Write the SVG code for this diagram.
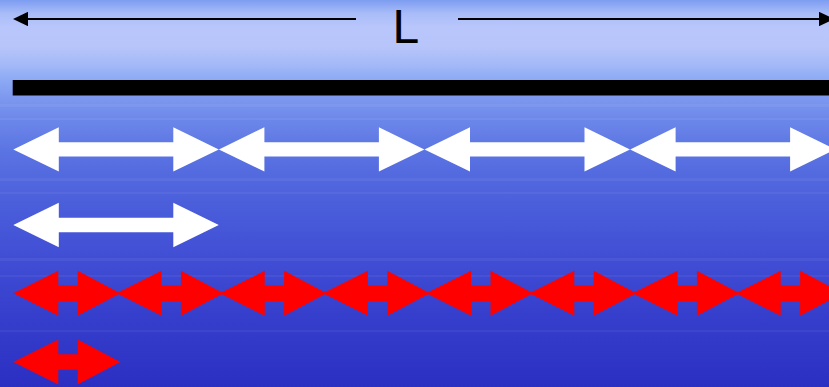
<svg xmlns="http://www.w3.org/2000/svg" width="829" height="387" viewBox="0 0 829 387">
  <defs>
    <linearGradient id="bg" x1="0" y1="0" x2="0" y2="1">
      <stop offset="0" stop-color="#7d9df2"/>
      <stop offset="0.035" stop-color="#a9bcf8"/>
      <stop offset="0.07" stop-color="#b9c6fb"/>
      <stop offset="0.12" stop-color="#b8c5fa"/>
      <stop offset="0.17" stop-color="#a2b8f7"/>
      <stop offset="0.21" stop-color="#8aa8f4"/>
      <stop offset="0.26" stop-color="#7a96ee"/>
      <stop offset="0.31" stop-color="#6c87ea"/>
      <stop offset="0.39" stop-color="#5b74e3"/>
      <stop offset="0.52" stop-color="#4b5fdb"/>
      <stop offset="0.65" stop-color="#4250d5"/>
      <stop offset="0.78" stop-color="#3842ce"/>
      <stop offset="1" stop-color="#2b2fc2"/>
    </linearGradient>
    <marker id="head" markerUnits="userSpaceOnUse" markerWidth="15" markerHeight="14.4" viewBox="0 0 15 14.4" refX="0" refY="7.2" orient="auto-start-reverse">
      <path d="M0,0 L15,7.2 L0,14.4 Z" fill="#000"/>
    </marker>
    <path id="wArrow" d="M0,0 L45.5,-22.2 L45.5,-7.2 L160,-7.2 L160,-22.2 L205.5,0 L160,22.2 L160,7.2 L45.5,7.2 L45.5,22.2 Z"/>
    <path id="rArrow" d="M0,0 L45,-22.5 L45,-7.7 L64.4,-7.7 L64.4,-22.5 L107,0 L64.4,22.5 L64.4,7.7 L45,7.7 L45,22.5 Z"/>
    <style>
      .white { fill: #ffffff; }
      .red { fill: #ff0000; }
      .dim { stroke: #000; stroke-width: 2; fill: none; }
      .label { font-family: "Liberation Sans", Arial, sans-serif; font-size: 48px; fill: #000; }
      .streak { fill: #ffffff; opacity: 0.05; }
    </style>
  </defs>

  <rect id="background" x="0" y="0" width="829" height="387" fill="url(#bg)"/>
  <g id="texture">
    <rect class="streak" x="0" y="104" width="829" height="3"/>
    <rect class="streak" x="0" y="118" width="829" height="2"/>
    <rect class="streak" x="0" y="178" width="829" height="3"/>
    <rect class="streak" x="0" y="192" width="829" height="2"/>
    <rect class="streak" x="0" y="258" width="829" height="3"/>
    <rect class="streak" x="0" y="275" width="829" height="2"/>
    <rect class="streak" x="0" y="330" width="829" height="2"/>
  </g>

  <g id="dimension-L">
    <g id="connectors">
      <line class="dim" x1="28" y1="19" x2="356" y2="19" marker-start="url(#head)"/>
      <line class="dim" x1="458" y1="19" x2="819" y2="19" marker-end="url(#head)"/>
    </g>
    <text class="label" x="392.5" y="42.7">L</text>
  </g>

  <rect id="bar" x="12.7" y="80" width="817" height="15.5" fill="#000"/>

  <g id="white-row" class="white">
    <use href="#wArrow" x="13.3" y="149.4"/>
    <use href="#wArrow" x="218.9" y="149.4"/>
    <use href="#wArrow" x="424.5" y="149.4"/>
    <use href="#wArrow" x="630.1" y="149.4"/>
  </g>
  <g id="white-single" class="white">
    <use href="#wArrow" x="13.3" y="225"/>
  </g>

  <g id="red-row" class="red">
    <use href="#rArrow" x="13.3" y="293.3"/>
    <use href="#rArrow" x="116.5" y="293.3"/>
    <use href="#rArrow" x="219.7" y="293.3"/>
    <use href="#rArrow" x="322.9" y="293.3"/>
    <use href="#rArrow" x="426.1" y="293.3"/>
    <use href="#rArrow" x="529.3" y="293.3"/>
    <use href="#rArrow" x="632.5" y="293.3"/>
    <use href="#rArrow" x="735.7" y="293.3"/>
  </g>
  <g id="red-single" class="red">
    <use href="#rArrow" x="13.3" y="362"/>
  </g>
</svg>
